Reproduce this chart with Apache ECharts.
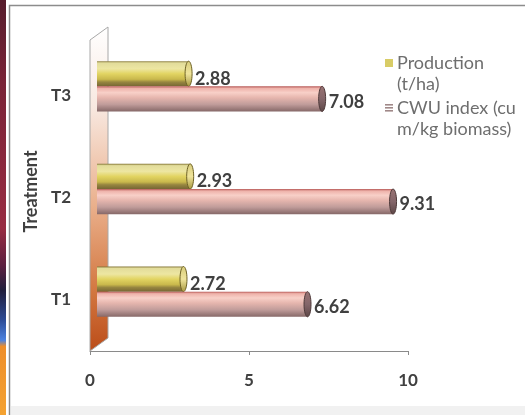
<!DOCTYPE html>
<html>
<head>
<meta charset="utf-8">
<script src="https://cdn.jsdelivr.net/npm/echarts@6/dist/echarts.min.js"></script>
<style>
  html, body { margin: 0; padding: 0; background: #ffffff; }
  #chart { width: 525px; height: 415px; }
</style>
</head>
<body>
<div id="chart"></div>
<script>
// Treatments, bottom to top along the category axis
const categories = ['T1', 'T2', 'T3'];
// Production (t/ha)
const production = [2.72, 2.93, 2.88];
// CWU index (cu m/kg biomass)
const cwuIndex = [6.62, 9.31, 7.08];
// Value axis ticks
const xTicks = [0, 5, 10];
const seriesNames = ['Production (t/ha)', 'CWU index (cu m/kg biomass)'];
const legendLines = [['Production', '(t/ha)'], ['CWU index (cu', 'm/kg biomass)']];

const FONT = 'Lato, "Open Sans", sans-serif';
const TEXT_DARK = '#404040';
const LEGEND_TEXT = '#6e6e6e';

// Front plane of the plot (axes) and the recessed plane holding the cylinders
const AXIS_GRID = { left: 90, right: 117, top: 44, bottom: 64 };
const BAR_GRID = { left: 97, right: 110, top: 35, bottom: 72 };
const W = 525, H = 415;
const DEPTH_X = 18, DEPTH_Y = 13;

const PROD_COLOR = '#d8cc66';
const CWU_COLOR = '#a08888';

const yellowBody = {
  type: 'linear', x: 0, y: 0, x2: 0, y2: 1,
  colorStops: [
    { offset: 0, color: '#867838' },
    { offset: 0.07, color: '#e2dc9a' },
    { offset: 0.3, color: '#ede6a2' },
    { offset: 0.5, color: '#e2d462' },
    { offset: 0.72, color: '#c9b84c' },
    { offset: 0.83, color: '#978640' },
    { offset: 1, color: '#766634' }
  ]
};
const yellowCap = {
  type: 'linear', x: 0, y: 0, x2: 0, y2: 1,
  colorStops: [
    { offset: 0, color: '#d8cc7a' },
    { offset: 0.5, color: '#efe49c' },
    { offset: 1, color: '#a6963e' }
  ]
};
const pinkBody = {
  type: 'linear', x: 0, y: 0, x2: 0, y2: 1,
  colorStops: [
    { offset: 0, color: '#b65856' },
    { offset: 0.08, color: '#eeb2aa' },
    { offset: 0.25, color: '#f8d0c8' },
    { offset: 0.45, color: '#e6b6ae' },
    { offset: 0.72, color: '#c09c9a' },
    { offset: 1, color: '#866868' }
  ]
};
const pinkCap = {
  type: 'linear', x: 0, y: 0, x2: 0, y2: 1,
  colorStops: [
    { offset: 0, color: '#9a7474' },
    { offset: 0.5, color: '#84666a' },
    { offset: 1, color: '#5c4646' }
  ]
};

// Draws one horizontal cylinder per category; slot 0 sits above slot 1
function cylinder(slot, bodyFill, capFill, capStroke, labelDy) {
  return function (params, api) {
    const cat = api.value(0);
    const val = api.value(1);
    const start = api.coord([0, cat]);
    const end = api.coord([val, cat]);
    const band = api.size([0, 1])[1];
    const h = band * 0.245;
    const cy = start[1] + (slot === 0 ? -h / 2 : h / 2);
    const rx = 3.5;
    return {
      type: 'group',
      children: [
        {
          type: 'rect',
          shape: { x: start[0], y: cy - h / 2, width: end[0] - start[0], height: h },
          style: { fill: bodyFill }
        },
        {
          type: 'ellipse',
          shape: { cx: end[0], cy: cy, rx: rx, ry: h / 2 },
          style: { fill: capFill, stroke: capStroke, lineWidth: 1 }
        },
        {
          type: 'text',
          style: {
            text: val.toFixed(2),
            x: end[0] + rx + 3,
            y: cy + labelDy,
            verticalAlign: 'middle',
            align: 'left',
            fill: TEXT_DARK,
            font: 'bold 18px ' + FONT
          }
        }
      ]
    };
  };
}

const prodData = categories.map((c, i) => [i, production[i]]);
const cwuData = categories.map((c, i) => [i, cwuIndex[i]]);

// Side wall of the 3D plot, set back from the value axis origin
const wallLeft = AXIS_GRID.left;
const wallBottom = H - AXIS_GRID.bottom;
const wallTop = AXIS_GRID.top - 4;

// Legend block to the right of the plot: swatch on the first line of each entry
const LEGEND_X = 385, LEGEND_Y = 63, LEGEND_LINE = 21, LEGEND_GAP = 24;
function legendEntry(idx, icon) {
  const y = LEGEND_Y + idx * (2 * LEGEND_LINE + LEGEND_GAP - LEGEND_LINE);
  return [
    icon(y),
    {
      type: 'text', silent: true,
      style: {
        text: legendLines[idx].join('\n'),
        x: LEGEND_X + 12,
        y: y - LEGEND_LINE / 2,
        verticalAlign: 'top',
        lineHeight: LEGEND_LINE,
        fill: LEGEND_TEXT,
        font: '18px ' + FONT
      }
    }
  ];
}
const legendGraphics = []
  .concat(legendEntry(0, y => ({
    type: 'rect', silent: true,
    shape: { x: LEGEND_X, y: y - 4, width: 8, height: 8 },
    style: { fill: PROD_COLOR }
  })))
  .concat(legendEntry(1, y => ({
    type: 'group', silent: true,
    children: [0, 3, 6].map(d => ({
      type: 'rect',
      shape: { x: LEGEND_X, y: y - 4 + d, width: 8, height: 1.6 },
      style: { fill: CWU_COLOR }
    }))
  })));

const option = {
  backgroundColor: '#ffffff',
  animation: false,
  graphic: [
    // page strip at the far left
    {
      type: 'rect', z: -10, silent: true,
      shape: { x: 0, y: 0, width: 6, height: H },
      style: {
        fill: {
          type: 'linear', x: 0, y: 0, x2: 0, y2: 1,
          colorStops: [
            { offset: 0, color: '#561c2c' },
            { offset: 0.2, color: '#7a2438' },
            { offset: 0.55, color: '#982c42' },
            { offset: 0.64, color: '#5c2040' },
            { offset: 0.7, color: '#201e3c' },
            { offset: 0.77, color: '#2c4a94' },
            { offset: 0.82, color: '#4c82e0' },
            { offset: 0.835, color: '#ee8e2a' },
            { offset: 1, color: '#f4a232' }
          ]
        }
      }
    },
    // chart frame
    {
      type: 'rect', z: -9, silent: true,
      shape: { x: 9.5, y: 5.5, width: W, height: H },
      style: { fill: '#ffffff', stroke: '#8c8c8c', lineWidth: 1.5 }
    },
    {
      type: 'rect', z: -8, silent: true,
      shape: { x: 11, y: 406, width: W, height: 9 },
      style: { fill: '#f1f1f1' }
    },
    // side wall
    {
      type: 'polygon', z: -5, silent: true,
      shape: {
        points: [
          [wallLeft, wallBottom],
          [wallLeft, wallTop],
          [wallLeft + DEPTH_X, wallTop - DEPTH_Y],
          [wallLeft + DEPTH_X, wallBottom - DEPTH_Y]
        ]
      },
      style: {
        fill: {
          type: 'linear', x: 0, y: 0, x2: 0, y2: 1,
          colorStops: [
            { offset: 0, color: '#ffffff' },
            { offset: 0.25, color: '#f8e8e0' },
            { offset: 0.55, color: '#eab08c' },
            { offset: 0.8, color: '#d47a44' },
            { offset: 1, color: '#bb4c18' }
          ]
        },
        stroke: '#a8a8a8',
        lineWidth: 1
      }
    }
  ].concat(legendGraphics),
  grid: [
    Object.assign({ containLabel: false }, AXIS_GRID),
    Object.assign({ containLabel: false }, BAR_GRID)
  ],
  xAxis: [
    {
      gridIndex: 0,
      type: 'value',
      min: xTicks[0],
      max: xTicks[xTicks.length - 1],
      interval: xTicks[1] - xTicks[0],
      axisLine: { show: true, lineStyle: { color: '#8a8a8a', width: 1 } },
      axisTick: { show: true, length: 4, lineStyle: { color: '#8a8a8a' } },
      splitLine: { show: false },
      axisLabel: {
        margin: 21,
        color: TEXT_DARK,
        fontFamily: FONT,
        fontSize: 17,
        fontWeight: 'bold'
      }
    },
    {
      gridIndex: 1,
      type: 'value',
      min: xTicks[0],
      max: xTicks[xTicks.length - 1],
      show: false,
      splitLine: { show: false }
    }
  ],
  yAxis: [
    {
      gridIndex: 0,
      type: 'category',
      data: categories,
      name: 'Treatment',
      nameLocation: 'middle',
      nameRotate: 90,
      nameGap: 49,
      nameTextStyle: {
        color: TEXT_DARK,
        fontFamily: FONT,
        fontSize: 18,
        fontWeight: 'bold',
        padding: [0, 0, 0, 12]
      },
      axisLine: { show: false },
      axisTick: { show: false },
      axisLabel: {
        margin: 19,
        color: TEXT_DARK,
        fontFamily: FONT,
        fontSize: 17,
        fontWeight: 'bold'
      }
    },
    {
      gridIndex: 1,
      type: 'category',
      data: categories,
      show: false
    }
  ],
  series: [
    {
      name: seriesNames[0],
      type: 'custom',
      xAxisIndex: 1,
      yAxisIndex: 1,
      itemStyle: { color: PROD_COLOR },
      encode: { x: 1, y: 0 },
      renderItem: cylinder(0, yellowBody, yellowCap, '#6e6226', 5),
      data: prodData
    },
    {
      name: seriesNames[1],
      type: 'custom',
      xAxisIndex: 1,
      yAxisIndex: 1,
      itemStyle: { color: CWU_COLOR },
      encode: { x: 1, y: 0 },
      renderItem: cylinder(1, pinkBody, pinkCap, '#4e3a3a', 3),
      data: cwuData
    }
  ]
};

const chart = echarts.init(document.getElementById('chart'), null, { renderer: 'canvas' });
chart.setOption(option);
</script>
</body>
</html>
